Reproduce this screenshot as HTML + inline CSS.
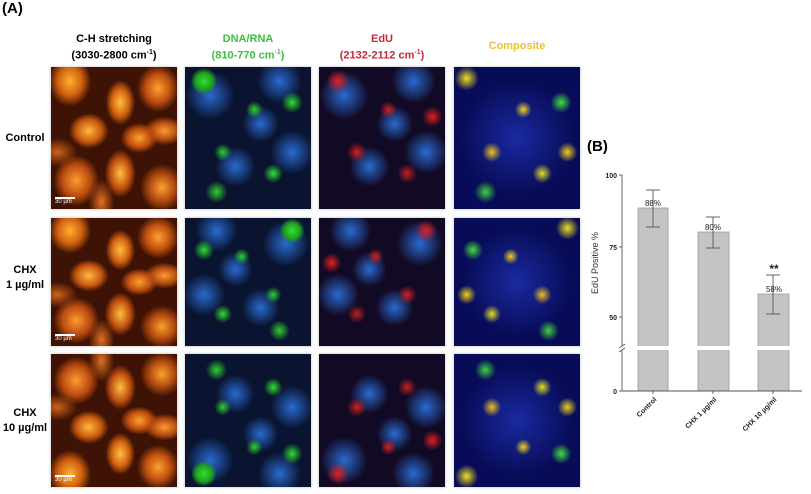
<!DOCTYPE html>
<html><head><meta charset="utf-8"><style>
body{margin:0;width:811px;height:494px;background:#fff;position:relative;overflow:hidden;font-family:"Liberation Sans",sans-serif}
.t{position:absolute;font-weight:bold;font-size:11px;text-align:center;line-height:14px}
.p{position:absolute;width:126px;box-shadow:0 0 3px #bbb}
.r{position:absolute;font-weight:bold;font-size:11px;text-align:center;line-height:15px;width:46px;left:2px}
.sb{position:absolute;left:4px;bottom:4px;color:#fff;font-size:6px;border-top:2px solid #fff;width:20px}
.o{background:
radial-gradient(ellipse at 15% 10%,#ffb030 0,#d06010 8%,transparent 14%),
radial-gradient(ellipse at 55% 25%,#ffc040 0,#d06010 9%,transparent 15%),
radial-gradient(ellipse at 85% 15%,#ffa030 0,#c05010 8%,transparent 14%),
radial-gradient(ellipse at 30% 45%,#ffb840 0,#c85a10 10%,transparent 16%),
radial-gradient(ellipse at 70% 50%,#ffa030 0,#c05010 9%,transparent 15%),
radial-gradient(ellipse at 20% 80%,#ff9a30 0,#b84a10 10%,transparent 16%),
radial-gradient(ellipse at 55% 75%,#ffc040 0,#c05010 10%,transparent 16%),
radial-gradient(ellipse at 88% 85%,#ffa030 0,#b04a10 8%,transparent 14%),
radial-gradient(ellipse at 90% 45%,#ff9a30 0,#b04a10 8%,transparent 13%),
radial-gradient(ellipse at 40% 95%,#e07020 0,transparent 12%),
radial-gradient(ellipse at 5% 60%,#d06018 0,transparent 12%),
#3e1204}
.g{background:
radial-gradient(circle at 15% 10%,#30e030 0,#20a020 5%,transparent 8%),
radial-gradient(circle at 55% 30%,#30d030 0,transparent 7%),
radial-gradient(circle at 85% 25%,#30e030 0,transparent 7%),
radial-gradient(circle at 30% 60%,#30d030 0,transparent 7%),
radial-gradient(circle at 70% 75%,#30e030 0,transparent 7%),
radial-gradient(circle at 25% 88%,#30d030 0,transparent 7%),
radial-gradient(circle at 20% 20%,#2a6ad0 0,transparent 16%),
radial-gradient(circle at 60% 40%,#2a6ad0 0,transparent 16%),
radial-gradient(circle at 40% 70%,#2a6ad0 0,transparent 16%),
radial-gradient(circle at 85% 60%,#2a6ad0 0,transparent 16%),
radial-gradient(circle at 75% 10%,#2a6ad0 0,transparent 14%),
#0a1430}
.e{background:
radial-gradient(circle at 15% 10%,#e02020 0,transparent 7%),
radial-gradient(circle at 55% 30%,#d02020 0,transparent 7%),
radial-gradient(circle at 90% 35%,#e02020 0,transparent 7%),
radial-gradient(circle at 30% 60%,#d02020 0,transparent 8%),
radial-gradient(circle at 70% 75%,#c02020 0,transparent 7%),
radial-gradient(circle at 20% 20%,#2a6ad0 0,transparent 16%),
radial-gradient(circle at 60% 40%,#2a6ad0 0,transparent 16%),
radial-gradient(circle at 40% 70%,#2a6ad0 0,transparent 16%),
radial-gradient(circle at 85% 60%,#2a6ad0 0,transparent 16%),
radial-gradient(circle at 75% 10%,#2a6ad0 0,transparent 14%),
#120a24}
.c{background:
radial-gradient(circle at 10% 8%,#f0e020 0,transparent 7%),
radial-gradient(circle at 55% 30%,#f0d020 0,transparent 7%),
radial-gradient(circle at 85% 25%,#40e040 0,transparent 7%),
radial-gradient(circle at 30% 60%,#f0c020 0,transparent 8%),
radial-gradient(circle at 70% 75%,#e0e020 0,transparent 7%),
radial-gradient(circle at 25% 88%,#40d040 0,transparent 7%),
radial-gradient(circle at 90% 60%,#f0d020 0,transparent 7%),
radial-gradient(circle at 50% 50%,#1a2aa0 0,transparent 60%),
#080c58}
</style></head><body>
<div class="t" style="left:2px;top:2px;font-size:15px">(A)</div>
<div class="t" style="left:64px;top:32px;width:100px">C-H stretching<br>(3030-2800 cm<sup style="font-size:7px">-1</sup>)</div>
<div class="t" style="left:198px;top:32px;width:100px;color:#3fbf3f">DNA/RNA<br>(810-770 cm<sup style="font-size:7px">-1</sup>)</div>
<div class="t" style="left:332px;top:32px;width:100px;color:#c8283a">EdU<br>(2132-2112 cm<sup style="font-size:7px">-1</sup>)</div>
<div class="t" style="left:467px;top:39px;width:100px;color:#f0c030">Composite</div>
<div class="r" style="top:131px">Control</div>
<div class="r" style="top:263px">CHX<br>1 µg/ml</div>
<div class="r" style="top:406px">CHX<br>10 µg/ml</div>

<div class="p o" style="left:51px;top:67px;height:142px"><div class="sb">30 µm</div></div>
<div class="p g" style="left:185px;top:67px;height:142px"></div>
<div class="p e" style="left:319px;top:67px;height:142px"></div>
<div class="p c" style="left:454px;top:67px;height:142px"></div>
<div class="p o" style="left:51px;top:218px;height:128px"><div class="sb">30 µm</div></div>
<div class="p g" style="left:185px;top:218px;height:128px;transform:scaleX(-1)"></div>
<div class="p e" style="left:319px;top:218px;height:128px;transform:scaleX(-1)"></div>
<div class="p c" style="left:454px;top:218px;height:128px;transform:scaleX(-1)"></div>
<div class="p o" style="left:51px;top:354px;height:133px;transform:scaleY(-1)"><div class="sb" style="transform:scaleY(-1);bottom:auto;top:4px">30 µm</div></div>
<div class="p g" style="left:185px;top:354px;height:133px;transform:scaleY(-1)"></div>
<div class="p e" style="left:319px;top:354px;height:133px;transform:scaleY(-1)"></div>
<div class="p c" style="left:454px;top:354px;height:133px;transform:scaleY(-1)"></div>

<svg width="811" height="494" style="position:absolute;left:0;top:0" font-family="Liberation Sans,sans-serif">
<text x="587" y="151" font-size="15" font-weight="bold">(B)</text>
<g fill="#c4c4c4" stroke="#9a9a9a" stroke-width="0.8">
<rect x="638" y="208" width="30" height="183"/>
<rect x="698" y="232" width="31" height="159"/>
<rect x="758" y="294" width="31" height="97"/>
</g>
<g stroke="#555" stroke-width="0.9" fill="none">
<line x1="622" y1="175" x2="622" y2="391"/>
<line x1="622" y1="391" x2="802" y2="391"/>
<line x1="619" y1="175" x2="622" y2="175"/><line x1="619" y1="247" x2="622" y2="247"/>
<line x1="619" y1="317" x2="622" y2="317"/><line x1="619" y1="391" x2="622" y2="391"/>
<line x1="653" y1="190" x2="653" y2="227"/><line x1="646" y1="190" x2="660" y2="190"/><line x1="646" y1="227" x2="660" y2="227"/>
<line x1="713" y1="217" x2="713" y2="248"/><line x1="706" y1="217" x2="720" y2="217"/><line x1="706" y1="248" x2="720" y2="248"/>
<line x1="773" y1="275" x2="773" y2="314"/><line x1="766" y1="275" x2="780" y2="275"/><line x1="766" y1="314" x2="780" y2="314"/>
<line x1="653" y1="391" x2="653" y2="394"/><line x1="713" y1="391" x2="713" y2="394"/><line x1="773" y1="391" x2="773" y2="394"/>
</g>
<rect x="615" y="346" width="190" height="4" fill="#fff"/>
<g stroke="#555" stroke-width="0.9"><line x1="619" y1="348" x2="625" y2="344"/><line x1="619" y1="352" x2="625" y2="348"/></g>
<g font-size="7" font-weight="bold" text-anchor="end" fill="#222">
<text x="617" y="178">100</text><text x="617" y="250">75</text><text x="617" y="320">50</text><text x="617" y="394">0</text>
</g>
<g font-size="8" fill="#222" text-anchor="middle">
<text x="653" y="206">88%</text><text x="713" y="230">80%</text><text x="774" y="292">58%</text>
<text x="774" y="273" font-size="12" font-weight="bold">**</text>
</g>
<text transform="translate(598,263) rotate(-90)" font-size="9" text-anchor="middle" fill="#333">EdU Positive %</text>
<g font-size="7" font-weight="bold" text-anchor="end" fill="#222">
<text transform="translate(657,400) rotate(-45)">Control</text>
<text transform="translate(717,400) rotate(-45)">CHX 1 µg/ml</text>
<text transform="translate(777,400) rotate(-45)">CHX 10 µg/ml</text>
</g>
</svg>
</body></html>
